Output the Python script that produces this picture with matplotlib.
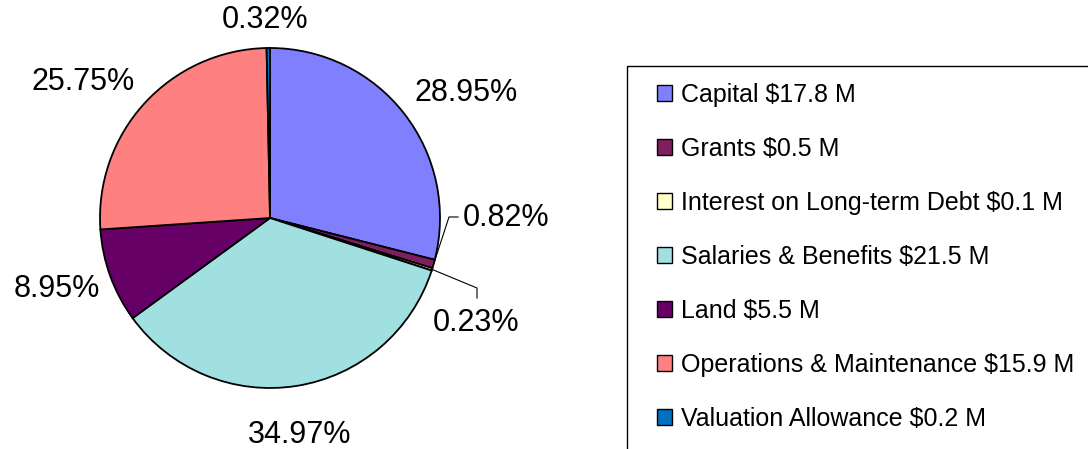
import numpy as np
import matplotlib.pyplot as plt
from matplotlib.patches import Rectangle, Patch

plt.rcParams['font.family'] = ['Liberation Sans', 'DejaVu Sans']

# Data
categories = ['Capital $17.8 M', 'Grants $0.5 M', 'Interest on Long-term Debt $0.1 M',
              'Salaries & Benefits $21.5 M', 'Land $5.5 M',
              'Operations & Maintenance $15.9 M', 'Valuation Allowance $0.2 M']
shares = [28.95, 0.82, 0.23, 34.97, 8.95, 25.75, 0.32]
colors = ['#8080FF', '#7F1F5F', '#FFFFCC', '#A0E0E0', '#660066', '#FF8080', '#0070C0']

# label positions (image pixels, y from top)
label_pos = [(466, 93), (506, 218), (476, 323), (300, 435), (57, 289), (83, 82), (265, 20)]

W, H = 1088, 449
fig = plt.figure(figsize=(W / 100, H / 100), dpi=100)
ax = fig.add_axes([0, 0, 1, 1])

cx, cy, r = 270, 218, 170
# y axis is flipped below, so start at -90 and go counterclockwise in data space
wedges, _ = ax.pie(shares, colors=colors, startangle=-90, counterclock=True,
                   center=(cx, cy), radius=r, frame=True,
                   wedgeprops=dict(edgecolor='black', linewidth=1.3))
ax.set_xlim(0, W)
ax.set_ylim(H, 0)
ax.set_aspect('equal')
ax.axis('off')

for v, (lx, ly) in zip(shares, label_pos):
    ax.text(lx, ly, f'{v:.2f}%', fontsize=22, ha='center', va='center')

# leader lines for the thin slices
def edge_point(w):
    a = np.deg2rad((w.theta1 + w.theta2) / 2)
    return cx + r * np.cos(a), cy + r * np.sin(a)

x0, y0 = edge_point(wedges[1])
ax.plot([x0, 449, 458], [y0, 217, 217], color='black', lw=0.8)
x0, y0 = edge_point(wedges[2])
ax.plot([x0, 477, 477], [y0, 288, 298], color='black', lw=0.8)

# legend frame running past the figure edge
ax.add_patch(Rectangle((627, 66), 600, 500, fill=False, edgecolor='black', lw=1.0, clip_on=False))
handles = [Patch(facecolor=c, edgecolor='black', linewidth=1.0) for c in colors]
fig.legend(handles, categories, loc='upper left', bbox_to_anchor=(657 / W, 1 - 83 / H),
           frameon=False, fontsize=18, handlelength=0.6, handleheight=0.6,
           handletextpad=0.35, labelspacing=1.2, borderpad=0, borderaxespad=0)

fig.savefig('out.png', dpi=100)
